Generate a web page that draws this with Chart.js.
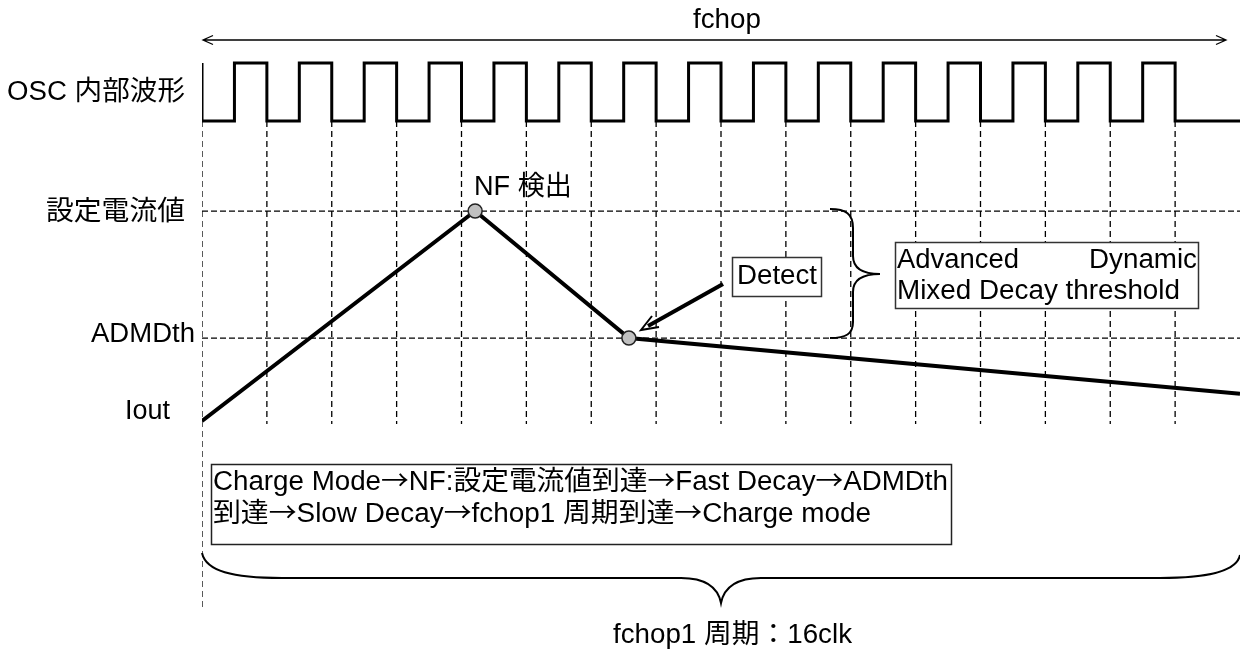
<!DOCTYPE html>
<html>
<head>
<meta charset="utf-8">
<script src="https://cdn.jsdelivr.net/npm/chart.js@4/dist/chart.umd.min.js"></script>
<style>
html,body{margin:0;padding:0;background:#fff;}
#wrap{width:1240px;height:650px;}
</style>
</head>
<body>
<div id="wrap"><canvas id="c" width="1240" height="650"></canvas></div>
<script>
// ---- data (clock units on x, current units on y) ----
const clockTicks = [0,1,2,3,4,5,6,7,8,9,10,11,12,13,14,15];
const clockLevels = [1,0,1,0,1,0,1,0,1,0,1,0,1,0,1,0,1,0,1,0,1,0,1,0,1,0,1,0,1,0,1,0];
const clockHigh = 1.705;
const clockLow = 1.429;
const ioutX = [0, 4.21, 6.58, 16];
const ioutY = [0, 1.0, 0.395, 0.13];
const markerRadius = [0, 7, 7, 0];
const thresholdNames = ['設定電流値', 'ADMDth'];
const thresholdValues = [1.0, 0.395];
const gridBottom = -0.014;
const firstGridBottom = -0.9;
const periodClocks = 16;

// ---- build datasets ----
const clockData = [{x: 0, y: clockLow}];
clockLevels.forEach((lv, i) => clockData.push({x: i * 0.5, y: lv ? clockHigh : clockLow}));
clockData.push({x: periodClocks, y: clockLow});

const ioutData = ioutX.map((x, i) => ({x: x, y: ioutY[i]}));

const vGridData = [];
clockTicks.forEach((t, i) => {
  vGridData.push({x: t, y: clockLow});
  vGridData.push({x: t, y: i === 0 ? firstGridBottom : gridBottom});
  vGridData.push({x: t, y: null});
});
const hGridData = [];
thresholdValues.forEach(v => {
  hGridData.push({x: 0, y: v});
  hGridData.push({x: periodClocks, y: v});
  hGridData.push({x: periodClocks, y: null});
});

const FONT = '27px "Liberation Sans", "Noto Sans CJK JP", sans-serif';
const ARROW_FONT = '27px "Noto Sans CJK JP", "DejaVu Sans", sans-serif';

// draw text left-aligned at (x,y), fitted to width w; arrows drawn in a font with long arrows
function txt(ctx, s, x, y, w) {
  const parts = s.split(/(→)/).filter(p => p.length);
  const widths = parts.map(p => { ctx.font = p === '→' ? ARROW_FONT : FONT; return ctx.measureText(p).width; });
  const total = widths.reduce((a, b) => a + b, 0);
  ctx.save();
  ctx.translate(x, y);
  if (w) ctx.scale(w / total, 1);
  let cx = 0;
  parts.forEach((p, i) => {
    ctx.font = p === '→' ? ARROW_FONT : FONT;
    ctx.fillText(p, cx, 0);
    cx += widths[i];
  });
  ctx.restore();
  ctx.font = FONT;
}

const annot = {
  id: 'annot',
  afterDatasetsDraw(chart) {
    const ctx = chart.ctx;
    const xs = chart.scales.x, ys = chart.scales.y;
    ctx.save();
    ctx.fillStyle = '#000';
    ctx.strokeStyle = '#000';
    ctx.font = FONT;
    ctx.textAlign = 'left';
    ctx.textBaseline = 'alphabetic';

    // top double arrow (fchop)
    const ay = 40, ax0 = xs.getPixelForValue(0) + 1, ax1 = 1226;
    ctx.lineWidth = 1.3;
    ctx.beginPath();
    ctx.moveTo(ax0, ay); ctx.lineTo(ax1, ay);
    ctx.moveTo(ax0 + 10, ay - 4.5); ctx.lineTo(ax0, ay); ctx.lineTo(ax0 + 10, ay + 4.5);
    ctx.moveTo(ax1 - 10, ay - 4.5); ctx.lineTo(ax1, ay); ctx.lineTo(ax1 - 10, ay + 4.5);
    ctx.stroke();
    txt(ctx, 'fchop', 693, 28, 68);

    // left labels
    txt(ctx, 'OSC 内部波形', 7, 100, 178);
    txt(ctx, thresholdNames[0], 46, ys.getPixelForValue(thresholdValues[0]) + 9, 139);
    txt(ctx, thresholdNames[1], 91, ys.getPixelForValue(thresholdValues[1]) + 4, 104);
    txt(ctx, 'Iout', 125, 419, 45);

    // NF label
    txt(ctx, 'NF 検出', 474, 195, 98);

    // Detect box + arrow
    ctx.fillStyle = '#fff';
    ctx.fillRect(732.5, 257.5, 89, 39);
    ctx.strokeStyle = '#333';
    ctx.lineWidth = 1.5;
    ctx.strokeRect(732.5, 257.5, 89, 39);
    ctx.fillStyle = '#000';
    txt(ctx, 'Detect', 737, 284, 80);

    ctx.strokeStyle = '#000';
    ctx.lineWidth = 4;
    ctx.beginPath();
    ctx.moveTo(723, 284); ctx.lineTo(648, 326);
    ctx.stroke();
    ctx.lineWidth = 2;
    ctx.beginPath();
    ctx.moveTo(652, 316); ctx.lineTo(641, 330); ctx.lineTo(659, 327);
    ctx.stroke();

    // right brace
    ctx.lineWidth = 2;
    ctx.beginPath();
    ctx.moveTo(830, 209);
    ctx.bezierCurveTo(846, 209, 853, 214, 853, 228);
    ctx.lineTo(853, 256);
    ctx.bezierCurveTo(853, 269, 864, 274, 880, 274);
    ctx.bezierCurveTo(864, 274, 853, 279, 853, 292);
    ctx.lineTo(853, 322);
    ctx.bezierCurveTo(853, 334, 846, 338, 830, 338);
    ctx.stroke();

    // Advanced box
    ctx.fillStyle = '#fff';
    ctx.fillRect(895.5, 242.5, 303, 66);
    ctx.strokeStyle = '#333';
    ctx.lineWidth = 1.5;
    ctx.strokeRect(895.5, 242.5, 303, 66);
    ctx.fillStyle = '#000';
    txt(ctx, 'Advanced', 897, 268, 122);
    txt(ctx, 'Dynamic', 1089, 268, 108);
    txt(ctx, 'Mixed Decay threshold', 897, 299, 283);

    // bottom description box
    ctx.fillStyle = '#fff';
    ctx.fillRect(211.5, 464.5, 740, 80);
    ctx.strokeStyle = '#222';
    ctx.lineWidth = 1.5;
    ctx.strokeRect(211.5, 464.5, 740, 80);
    ctx.fillStyle = '#000';
    txt(ctx, 'Charge Mode→NF:設定電流値到達→Fast Decay→ADMDth', 213, 490, 735);
    txt(ctx, '到達→Slow Decay→fchop1 周期到達→Charge mode', 213, 522, 658);

    // bottom brace
    const bx0 = xs.getPixelForValue(0), bx1 = xs.getPixelForValue(periodClocks), bxm = xs.getPixelForValue(periodClocks / 2);
    ctx.strokeStyle = '#000';
    ctx.lineWidth = 2;
    ctx.beginPath();
    ctx.moveTo(bx0, 553);
    ctx.bezierCurveTo(bx0 + 4, 571, bx0 + 30, 578, bx0 + 80, 578);
    ctx.lineTo(bxm - 40, 578);
    ctx.bezierCurveTo(bxm - 15, 578, bxm - 3, 588, bxm, 603);
    ctx.bezierCurveTo(bxm + 3, 588, bxm + 15, 578, bxm + 40, 578);
    ctx.lineTo(bx1 - 80, 578);
    ctx.bezierCurveTo(bx1 - 30, 578, bx1 - 3, 571, bx1, 555);
    ctx.stroke();

    txt(ctx, 'fchop1 周期：16clk', 613, 643, 239);
    ctx.restore();
  }
};

new Chart(document.getElementById('c'), {
  type: 'line',
  data: {
    datasets: [
      {
        label: 'Iout', data: ioutData, order: 0,
        borderColor: '#000', borderWidth: 4, tension: 0,
        pointRadius: markerRadius, pointHoverRadius: markerRadius,
        pointBackgroundColor: '#c0c0c0', pointBorderColor: '#222', pointBorderWidth: 1.5
      },
      {
        label: 'OSC', data: clockData, order: 1, stepped: 'after',
        borderColor: '#000', borderWidth: 3, pointRadius: 0, borderJoinStyle: 'miter'
      },
      {
        label: 'vgrid', data: vGridData, order: 2, spanGaps: false,
        borderColor: '#000', borderWidth: 1.3, borderDash: [6, 4], pointRadius: 0
      },
      {
        label: 'hgrid', data: hGridData, order: 2, spanGaps: false,
        borderColor: '#000', borderWidth: 1.3, borderDash: [6, 3], pointRadius: 0
      }
    ]
  },
  options: {
    responsive: false,
    animation: false,
    devicePixelRatio: 1,
    layout: {padding: {left: 202, right: 0, top: 0, bottom: 0}},
    scales: {
      x: {type: 'linear', min: 0, max: periodClocks, display: false},
      y: {type: 'linear', min: -1.0905, max: 2.005, display: false}
    },
    plugins: {legend: {display: false}, tooltip: {enabled: false}},
    events: []
  },
  plugins: [annot]
});
</script>
</body>
</html>
